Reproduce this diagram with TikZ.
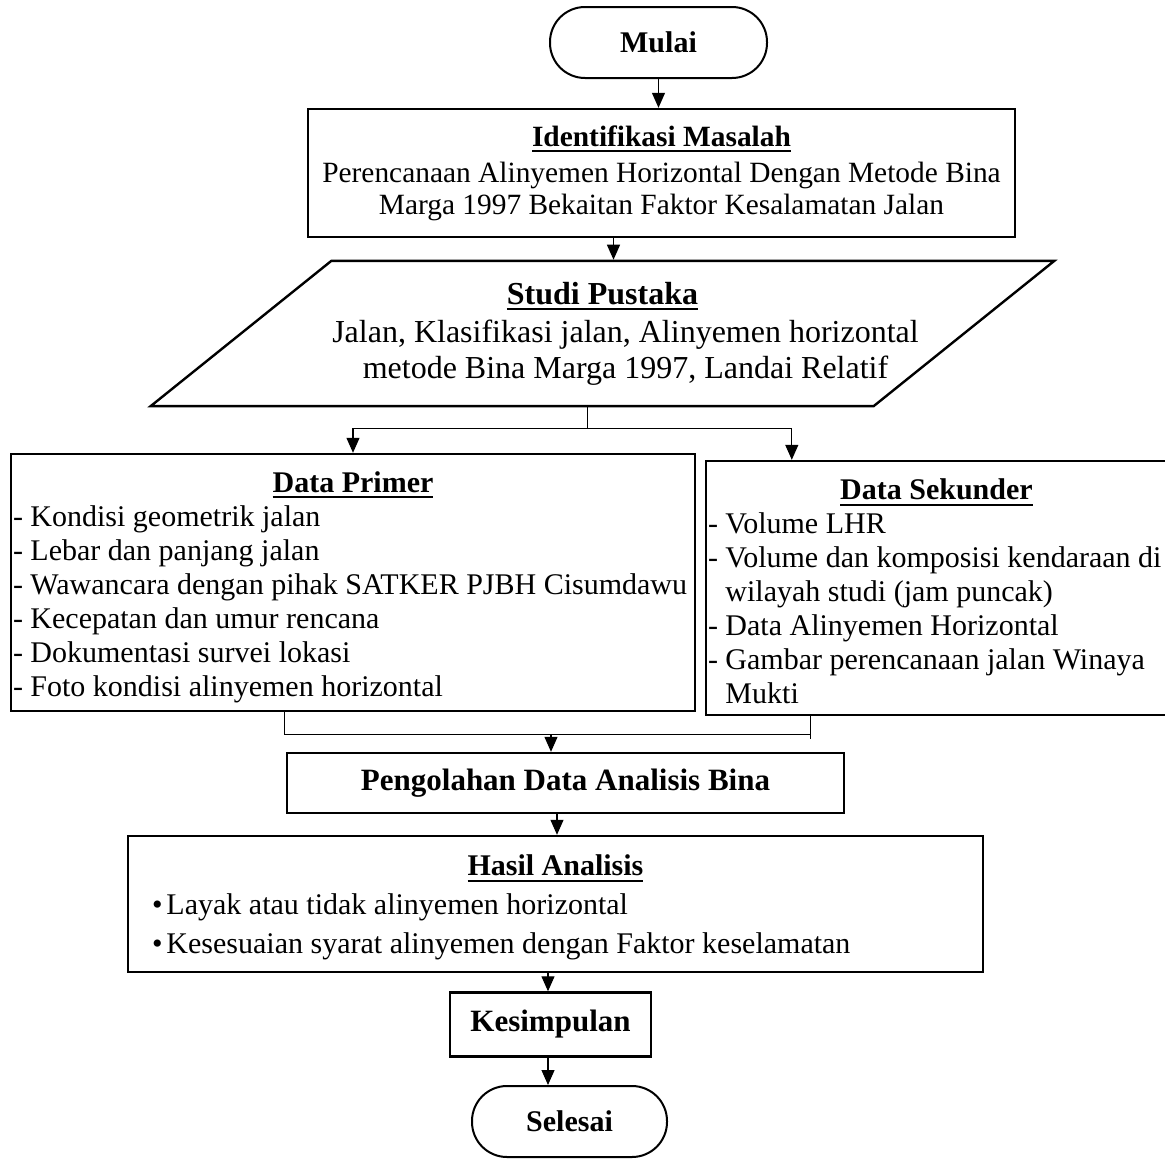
\documentclass[tikz,border=0pt]{standalone}
\usepackage{fontspec}
\setmainfont{Liberation Serif}
\usetikzlibrary{positioning,shapes.geometric,arrows.meta}

% judul tebal bergaris bawah
\newcommand{\judul}[1]{\setbox0\hbox{\bfseries #1}\rlap{\rule[-6pt]{\wd0}{2.2pt}}\box0}

\tikzset{
  box/.style={draw, rectangle, line width=2.4pt, inner sep=2pt},
  terminal/.style={draw, rectangle, rounded corners=35pt, line width=2pt,
    minimum height=71pt, font=\fontsize{30}{34}\selectfont\bfseries},
  input/.style={draw, trapezium, trapezium left angle=38.8,
    trapezium right angle=141.2, trapezium stretches body,
    inner ysep=21pt, inner xsep=-45pt,
    line width=2.4pt, minimum width=901pt, minimum height=145pt, align=flush center},
  line/.style={line width=1.2pt},
  arrow/.style={line, -{Triangle[width=13pt,length=15pt]}}
}

\begin{document}
\begin{tikzpicture}[x=1pt,y=-1pt,on grid,font=\fontsize{30}{34}\selectfont]
    \useasboundingbox (0,0) rectangle (1165,1159);
    \node[terminal, minimum width=217pt] (mulai) at (658.5,42.5) {Mulai};
    \node[box, minimum width=707pt, minimum height=128pt, align=flush center,
        font=\fontsize{29.4}{32}\selectfont] (ident) [below=130.5pt of mulai, xshift=3pt]
        {\judul{Identifikasi Masalah}\\[4pt]
         Perencanaan Alinyemen Horizontal Dengan Metode Bina\\
         Marga 1997 Bekaitan Faktor Kesalamatan Jalan};
    \node[input, font=\fontsize{32}{36}\selectfont] (studi) [below=160.5pt of ident, xshift=-59pt]
        {\judul{Studi Pustaka}\\[2pt]
         \hspace*{46pt}Jalan, Klasifikasi jalan, Alinyemen horizontal\\
         \hspace*{46pt}metode Bina Marga 1997, Landai Relatif};
    \node[box, text width=680pt, minimum height=257pt, align=flush left] (primer)
        [below=249pt of studi, xshift=-249.5pt]
        {{\centering\rule{0pt}{30pt}\judul{Data Primer}\par}
         - Kondisi geometrik jalan\\
         - Lebar dan panjang jalan\\
         - Wawancara dengan pihak SATKER PJBH Cisumdawu\\
         - Kecepatan dan umur rencana\\
         - Dokumentasi survei lokasi\\
         - Foto kondisi alinyemen horizontal};
    \node[box, text width=457pt, minimum height=254pt, align=flush left] (sekunder)
        [right=583.5pt of primer, yshift=-5.5pt]
        {{\centering\rule{0pt}{28pt}\judul{Data Sekunder}\par}
         - Volume LHR\\
         - Volume dan komposisi kendaraan di\\
         \phantom{- }wilayah studi (jam puncak)\\
         - Data Alinyemen Horizontal\\
         - Gambar perencanaan jalan Winaya\\
         \phantom{- }Mukti};
    \node[box, minimum width=557pt, minimum height=60pt, font=\fontsize{31}{34}\selectfont\bfseries] (olah)
        [below=200.5pt of primer, xshift=212.5pt] {Pengolahan Data Analisis Bina};
    \node[box, text width=851pt, minimum height=136pt, align=flush left,
        font=\fontsize{30}{39}\selectfont] (hasil) [below=121pt of olah, xshift=-10pt]
        {{\centering\rule{0pt}{28pt}\judul{Hasil Analisis}\par}
         \hspace*{22pt}\textbullet\hspace{4pt}Layak atau tidak alinyemen horizontal\\
         \hspace*{22pt}\textbullet\hspace{4pt}Kesesuaian syarat alinyemen dengan Faktor keselamatan};
    \node[box, minimum width=201pt, minimum height=64pt, font=\fontsize{31}{34}\selectfont\bfseries] (simpul)
        [below=120.5pt of hasil, xshift=-5pt] {Kesimpulan};
    \node[terminal, minimum width=195pt] (selesai) [below=97pt of simpul, xshift=19pt] {Selesai};

    % arus utama
    \draw[arrow] (mulai.south) -- (mulai.south |- ident.north);
    \draw[arrow] ([xshift=-48pt]ident.south) -- ([xshift=-48pt]ident.south |- studi.north);

    % percabangan data
    \draw[line] ([xshift=-15pt]studi.south) -- ++(0pt,-21pt) coordinate (fork);
    \draw[line] (fork -| primer.north) -- ([xshift=87pt]sekunder.north west |- fork);
    \draw[arrow] (fork -| primer.north) -- (primer.north);
    \draw[arrow] ([xshift=87pt]sekunder.north west |- fork) -- ([xshift=87pt]sekunder.north west);

    % penggabungan data
    \coordinate (join) at ([xshift=-14.5pt,yshift=17pt]olah.north);
    \draw[line] ([xshift=275pt]primer.south west) -- ([xshift=275pt]primer.south west |- join);
    \draw[line] ([xshift=106pt]sekunder.south west) -- ([xshift=106pt,yshift=-4pt]sekunder.south west |- join);
    \draw[line] ([xshift=275pt]primer.south west |- join) -- ([xshift=106pt]sekunder.south west |- join);
    \draw[arrow] (join) -- (join |- olah.north);

    \draw[arrow] ([xshift=-8.5pt]olah.south) -- ([xshift=-8.5pt]olah.south |- hasil.north);
    \draw[arrow] ([xshift=-7.5pt]hasil.south) -- ([xshift=-7.5pt]hasil.south |- simpul.north);
    \draw[arrow] ([xshift=-2.5pt]simpul.south) -- ([xshift=-2.5pt]simpul.south |- selesai.north);
\end{tikzpicture}
\end{document}
